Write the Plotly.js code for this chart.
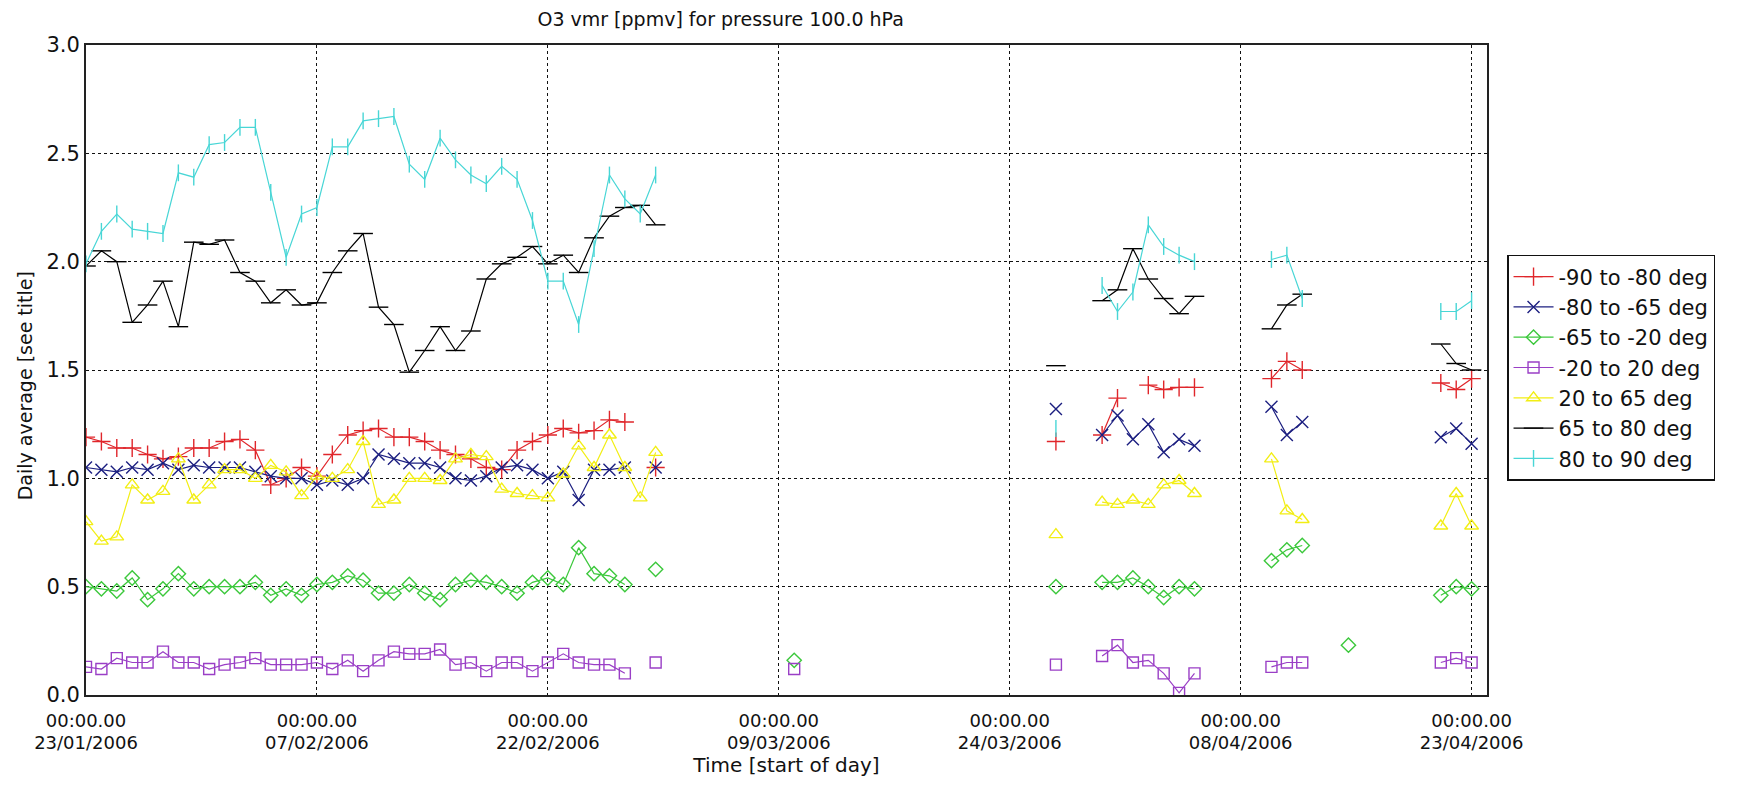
<!DOCTYPE html>
<html><head><meta charset="utf-8">
<script src="https://cdn.plot.ly/plotly-3.0.1.min.js"></script>
<style>html,body{margin:0;padding:0;background:#fff;} #chart{width:1746px;height:787px;}</style>
</head><body><div id="chart"></div>
<script>
// ---- data ----
const dates = [
 '2006-01-23','2006-01-24','2006-01-25','2006-01-26','2006-01-27','2006-01-28','2006-01-29','2006-01-30',
 '2006-01-31','2006-02-01','2006-02-02','2006-02-03','2006-02-04','2006-02-05','2006-02-06','2006-02-07',
 '2006-02-08','2006-02-09','2006-02-10','2006-02-11','2006-02-12','2006-02-13','2006-02-14','2006-02-15',
 '2006-02-16','2006-02-17','2006-02-18','2006-02-19','2006-02-20','2006-02-21','2006-02-22','2006-02-23',
 '2006-02-24','2006-02-25','2006-02-26','2006-02-27','2006-02-28','2006-03-01',
 '2006-03-10',
 '2006-03-27',
 '2006-03-30','2006-03-31','2006-04-01','2006-04-02','2006-04-03','2006-04-04','2006-04-05',
 '2006-04-10','2006-04-11','2006-04-12',
 '2006-04-15',
 '2006-04-21','2006-04-22','2006-04-23'
];
const seriesNames = ['-90 to -80 deg','-80 to -65 deg','-65 to -20 deg','-20 to 20 deg','20 to 65 deg','65 to 80 deg','80 to 90 deg'];
const sS90to80 = [1.19,1.17,1.14,1.14,1.11,1.09,1.10,1.14,1.14,1.17,1.18,1.13,0.97,1.00,1.05,1.01,
 1.11,1.20,1.22,1.23,1.19,1.19,1.17,1.13,1.11,1.09,1.05,1.04,1.13,1.17,1.20,1.23,1.21,1.22,1.27,1.26,null,1.05,
 null, 1.17, 1.20,1.37,null,1.43,1.41,1.42,1.42, 1.46,1.54,1.50, null, 1.44,1.41,1.46];
const sS80to65 = [1.05,1.04,1.03,1.05,1.04,1.07,1.04,1.06,1.05,1.05,1.05,1.03,1.01,1.00,1.00,0.97,
 0.99,0.97,1.00,1.11,1.09,1.07,1.07,1.05,1.00,0.99,1.01,1.05,1.06,1.04,1.00,1.03,0.90,1.04,1.04,1.05,null,1.05,
 null, 1.32, 1.20,1.29,1.18,1.25,1.12,1.18,1.15, 1.33,1.20,1.26, null, 1.19,1.23,1.16];
const sS65to20 = [0.50,0.49,0.48,0.54,0.44,0.49,0.56,0.49,0.50,0.50,0.50,0.52,0.46,0.49,0.46,0.51,
 0.52,0.55,0.53,0.47,0.47,0.51,0.47,0.44,0.51,0.53,0.52,0.50,0.47,0.52,0.54,0.51,0.68,0.56,0.55,0.51,null,0.58,
 0.16, 0.50, 0.52,0.52,0.54,0.50,0.45,0.50,0.49, 0.62,0.67,0.69, 0.23, 0.46,0.50,0.49];
const sS20toN20 = [0.13,0.12,0.17,0.15,0.15,0.20,0.15,0.15,0.12,0.14,0.15,0.17,0.14,0.14,0.14,0.15,
 0.12,0.16,0.11,0.16,0.20,0.19,0.19,0.21,0.14,0.15,0.11,0.15,0.15,0.11,0.15,0.19,0.15,0.14,0.14,0.10,null,0.15,
 0.12, 0.14, 0.18,0.23,0.15,0.16,0.10,0.01,0.10, 0.13,0.15,0.15, null, 0.15,0.17,0.15];
const sN20to65 = [0.80,0.71,0.73,0.97,0.90,0.94,1.09,0.90,0.97,1.04,1.04,1.00,1.06,1.03,0.92,1.01,
 1.00,1.04,1.17,0.88,0.90,1.00,1.00,0.99,1.09,1.11,1.10,0.95,0.93,0.92,0.91,1.02,1.15,1.05,1.20,1.05,0.91,1.12,
 null, 0.74, 0.89,0.88,0.90,0.88,0.97,0.99,0.93, 1.09,0.85,0.81, null, 0.78,0.93,0.78];
const sN65to80 = [1.98,2.05,2.00,1.72,1.80,1.91,1.70,2.09,2.08,2.10,1.95,1.91,1.81,1.87,1.80,1.81,
 1.95,2.05,2.13,1.79,1.71,1.49,1.59,1.70,1.59,1.68,1.92,1.99,2.02,2.07,1.99,2.03,1.95,2.11,2.21,2.25,2.26,2.17,
 null, 1.52, 1.82,1.87,2.06,1.92,1.83,1.76,1.84, 1.69,1.80,1.85, null, 1.62,1.53,1.50];
const sN80to90 = [1.99,2.14,2.22,2.15,2.14,2.13,2.41,2.39,2.54,2.55,2.62,2.62,2.32,2.02,2.22,2.25,
 2.53,2.53,2.65,2.66,2.67,2.45,2.38,2.57,2.47,2.40,2.36,2.44,2.38,2.19,1.91,1.91,1.71,2.06,2.40,2.29,2.22,2.40,
 null, 1.23, 1.89,1.77,1.86,2.17,2.07,2.03,2.00, 2.01,2.03,1.83, null, 1.77,1.77,1.82];
const tickDates = ['2006-01-23','2006-02-07','2006-02-22','2006-03-09','2006-03-24','2006-04-08','2006-04-23'];
const tickTimes = ['00:00.00','00:00.00','00:00.00','00:00.00','00:00.00','00:00.00','00:00.00'];
const tickDays  = ['23/01/2006','07/02/2006','22/02/2006','09/03/2006','24/03/2006','08/04/2006','23/04/2006'];
const yTicks = [0,0.5,1.0,1.5,2.0,2.5,3.0];
const xRange = ['2006-01-23','2006-04-24'];
const yRange = [0,3];

// ---- styles ----
const styles = [
 {color:'#e0262b', symbol:'cross-thin-open', size:13},
 {color:'#1c1f80', symbol:'x-thin-open', size:12},
 {color:'#3cc83c', symbol:'diamond-open', size:11},
 {color:'#9a3fc6', symbol:'square-open', size:11},
 {color:'#f2ee14', symbol:'triangle-up-open', size:12},
 {color:'#000000', symbol:'line-ew-open', size:14},
 {color:'#48d6d6', symbol:'line-ns-open', size:12}
];
const allSeries = [sS90to80,sS80to65,sS65to20,sS20toN20,sN20to65,sN65to80,sN80to90];

function withGaps(xs, ys){
  const X=[],Y=[];
  for(let i=0;i<xs.length;i++){
    if(i>0){
      const dd=(Date.parse(xs[i])-Date.parse(xs[i-1]))/86400000;
      if(dd>1.5){X.push(xs[i]);Y.push(null);}
    }
    X.push(xs[i]);Y.push(ys[i]);
  }
  return {X,Y};
}

const traces = allSeries.map((s,i)=>{
  const g = withGaps(dates, s);
  const st = styles[i];
  return {
    type:'scatter', mode:'lines+markers', name:seriesNames[i],
    x:g.X, y:g.Y, connectgaps:false,
    line:{color:st.color, width:1.2},
    marker:{symbol:st.symbol, size:st.size, color:st.color, line:{color:st.color, width:1.4}},
    hoverinfo:'x+y'
  };
});
// empty helper trace so the second (date-label) x axis is drawn
traces.push({type:'scatter', mode:'markers', x:[], y:[], xaxis:'x2', yaxis:'y', showlegend:false, hoverinfo:'skip'});

const grid = {showgrid:true, gridcolor:'#111', gridwidth:1, griddash:'3px,3px'};
const layout = {
  width:1746, height:787,
  margin:{l:86, r:259, t:45, b:92},
  paper_bgcolor:'#fff', plot_bgcolor:'#fff',
  font:{family:'DejaVu Sans, sans-serif', color:'#111', size:18},
  title:{text:'O3 vmr [ppmv] for pressure 100.0 hPa', xref:'paper', x:0.453, xanchor:'center',
         yref:'container', y:0.975, yanchor:'middle', font:{size:19, color:'#111'}},
  showlegend:true,
  legend:{x:1.0143, xanchor:'left', y:0.677, yanchor:'top', bordercolor:'#111', borderwidth:1.5,
          bgcolor:'#fff', font:{size:21}, tracegroupgap:0, itemwidth:40},
  xaxis:Object.assign({type:'date', range:xRange, tickmode:'array', tickvals:tickDates, ticktext:tickTimes,
          showline:true, linecolor:'#222', linewidth:2, mirror:true, ticks:'', zeroline:false,
          ticklabelstandoff:8, tickfont:{size:18}, fixedrange:true}, grid),
  xaxis2:{type:'date', overlaying:'x', anchor:'y', side:'bottom', range:xRange, tickmode:'array',
          tickvals:tickDates, ticktext:tickDays, showgrid:false, showline:false, ticks:'', zeroline:false,
          ticklabelstandoff:35, tickfont:{size:18},
          title:{text:'Time [start of day]', font:{size:20}, standoff:4}},
  yaxis:Object.assign({range:yRange, tickmode:'array', tickvals:yTicks, tickformat:'.1f',
          showline:true, linecolor:'#222', linewidth:2, mirror:true, ticks:'', zeroline:false,
          tickfont:{size:21}}, grid),
  annotations:[{text:'Daily average [see title]', textangle:-90, xref:'paper', x:-0.0435, xanchor:'center',
          yref:'paper', y:0.475, yanchor:'middle', showarrow:false, font:{size:19, color:'#111'}}]
};
Plotly.newPlot('chart', traces, layout, {staticPlot:true});
</script></body></html>
